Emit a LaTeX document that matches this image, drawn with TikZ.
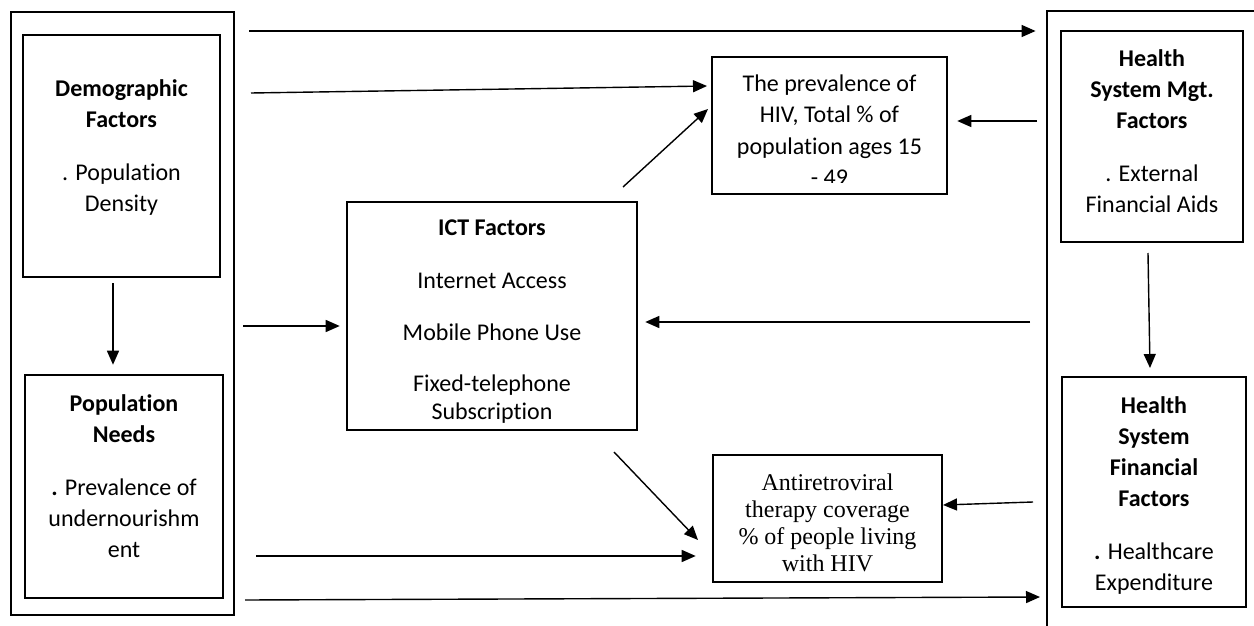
\documentclass[tikz,border=0pt]{standalone}
\usepackage{fontspec}
\setmainfont{Carlito}[Ligatures=NoCommon]
\newfontfamily\tnr{Liberation Serif}
\usetikzlibrary{arrows.meta}
\newcommand{\firstln}{\rule{0pt}{20pt}}
\newcommand{\firstlt}{\rule{0pt}{18pt}}
\begin{document}
\begin{tikzpicture}[x=1pt,y=-1pt,
 box/.style={draw, line width=2.6pt, inner sep=0pt},
 outerbox/.style={draw, line width=2.8pt, inner sep=0pt},
 txt/.style={inner sep=0pt, anchor=north, align=center, font=\fontsize{24}{31}\selectfont},
 serif/.style={inner sep=0pt, anchor=north, align=center, font=\tnr\fontsize{24}{27}\selectfont},
 conn/.style={line width=1.4pt, -{Triangle[length=14pt,width=12pt]}}]
\useasboundingbox[fill=white] (0,0) rectangle (1254,626);

% outer boxes
\node[outerbox, minimum width=223pt, minimum height=603pt] (lout) at (122.5,313.5) {};
\node[outerbox, minimum width=253pt, minimum height=689pt] (rout) at (1173.5,355.5) {};

% inner boxes
\node[box, minimum width=197pt, minimum height=242pt] (demo) at (121.5,156) {};
\node[box, minimum width=198pt, minimum height=223pt] (popn) at (124,486.5) {};
\node[box, minimum width=290pt, minimum height=228pt] (ict) at (492,316) {};
\node[box, minimum width=235pt, minimum height=137pt] (hiv) at (829.5,125.5) {};
\node[box, minimum width=229pt, minimum height=127pt] (art) at (827.5,518.5) {};
\node[box, minimum width=182pt, minimum height=211pt] (hsm) at (1152,136.5) {};
\node[box, minimum width=184pt, minimum height=230pt] (hsf) at (1154,492) {};

% texts
\node[txt] (demotxt) at (121.5,76) {\firstln\textbf{Demographic}\\\textbf{Factors}\\[22pt]. Population\\Density};
\node[txt] (popntxt) at (124,391) {\firstln\textbf{Population}\\\textbf{Needs}\\[22pt]\textbf{.} Prevalence of\\undernourishm\\ent};
\node[txt] (icttxt) at (492,215) {\firstln\textbf{ICT Factors}\\[22pt]Internet Access\\[21pt]Mobile Phone Use\\[20pt]Fixed-telephone\\[-3pt]Subscription};
\begin{scope}
\clip (713,58) rectangle (946,182);
\node[txt, font=\fontsize{24}{31.5}\selectfont] (hivtxt) at (829.5,71) {\firstln The prevalence of\\HIV, Total \% of\\population ages 15\\- 49};
\end{scope}
\node[txt] (hsmtxt) at (1152,46) {\firstln\textbf{Health}\\\textbf{System Mgt.}\\\textbf{Factors}\\[22pt]. External\\Financial Aids};
\node[txt] (hsftxt) at (1154,393) {\firstln\textbf{Health}\\\textbf{System}\\\textbf{Financial}\\\textbf{Factors}\\[22pt]\textbf{.} Healthcare\\Expenditure};
\node[serif] (arttxt) at (827.5,472) {\firstlt Antiretroviral\\therapy coverage\\\% of people living\\with HIV};

% connector end points
\coordinate (a1s) at (249,31);
\coordinate (a2s) at (251,93);
\coordinate (a2e) at (707,86);
\coordinate (a3s) at (623,187);
\coordinate (a3e) at (708,109);
\coordinate (a4s) at (1037,121);
\coordinate (a5s) at (243,326);
\coordinate (a6s) at (1030,322);
\coordinate (a7s) at (614,452);
\coordinate (a7e) at (698,540);
\coordinate (a8s) at (256,556);
\coordinate (a9s) at (1033,502);
\coordinate (a9e) at (943,505);
\coordinate (a10s) at (245,600);
\coordinate (a10e) at (1040,597);
\coordinate (a11s) at (113,283);
\coordinate (a12s) at (1148,253);
\coordinate (a12e) at (1150,368);

% connectors
\draw[conn, shorten >=10pt] (a1s) -- (rout.west |- a1s);
\draw[conn] (a2s) -- (a2e);
\draw[conn] (a3s) -- (a3e);
\draw[conn, shorten >=9pt] (a4s) -- (hiv.east |- a4s);
\draw[conn, shorten >=6pt] (a5s) -- (ict.west |- a5s);
\draw[conn, shorten >=7pt] (a6s) -- (ict.east |- a6s);
\draw[conn] (a7s) -- (a7e);
\draw[conn, shorten >=16pt] (a8s) -- (art.west |- a8s);
\draw[conn] (a9s) -- (a9e);
\draw[conn] (a10s) -- (a10e);
\draw[conn, shorten >=9pt] (a11s) -- (popn.north -| a11s);
\draw[conn] (a12s) -- (a12e);
\end{tikzpicture}
\end{document}
